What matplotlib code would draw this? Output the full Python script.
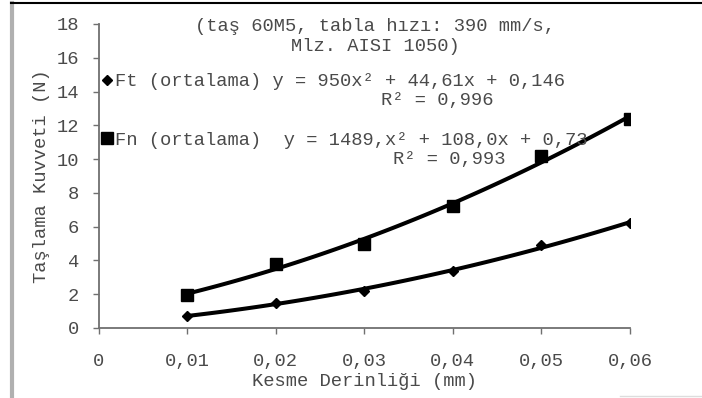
import numpy as np
import matplotlib
matplotlib.use('Agg')
import matplotlib.pyplot as plt
from matplotlib.lines import Line2D

# data
depth = [0.01, 0.02, 0.03, 0.04, 0.05, 0.06]
ft = [0.7, 1.5, 2.2, 3.4, 4.9, 6.2]
fn = [1.95, 3.8, 5.0, 7.2, 10.2, 12.4]
xticks = [0, 0.01, 0.02, 0.03, 0.04, 0.05, 0.06]
xticklabels = ["0", "0,01", "0,02", "0,03", "0,04", "0,05", "0,06"]
yticks = [0, 2, 4, 6, 8, 10, 12, 14, 16, 18]
ft_label = "Ft (ortalama) y = 950x² + 44,61x + 0,146"
fn_label = "Fn (ortalama)  y = 1489,x² + 108,0x + 0,73"
ft_r2 = "R² = 0,996"
fn_r2 = "R² = 0,993"
title_lines = "(taş 60M5, tabla hızı: 390 mm/s,\nMlz. AISI 1050)"

plt.rcParams['font.family'] = ['Liberation Mono', 'DejaVu Sans Mono']
FS = 13.5
GREY = '#4a4a4a'
AX = '#707070'

fig = plt.figure(figsize=(7.02, 3.98), dpi=100)
ax = fig.add_axes([98.5/702, 1-328/398, (630-98.5)/702, (328-24)/398])

xs = np.linspace(depth[0], depth[-1], 100)
for y, mk, ms, lab in [(ft, 'D', 5.5, ft_label), (fn, 's', 8.5, fn_label)]:
    c = np.polyfit(depth, y, 2)
    ax.plot(xs, np.polyval(c, xs), color='black', lw=2.9)
    ax.plot(depth, y, ls='none', marker=mk, ms=ms, color='black', label=lab)

ax.set_xlim(0, 0.06)
ax.set_ylim(0, 18)
ax.set_xticks(xticks)
ax.set_xticklabels(xticklabels)
ax.set_yticks(yticks)
for s in ['top', 'right']:
    ax.spines[s].set_visible(False)
for s in ['left', 'bottom']:
    ax.spines[s].set_color(AX)
    ax.spines[s].set_linewidth(1.3)
ax.tick_params(axis='both', colors=AX, labelcolor=GREY, labelsize=FS, length=4, width=1)
ax.tick_params(axis='x', pad=14)
ax.tick_params(axis='y', pad=10)
ax.set_xlabel("Kesme Derinliği (mm)", fontsize=FS, color=GREY, labelpad=2)
ax.set_ylabel("Taşlama Kuvveti (N)", fontsize=FS, color=GREY, labelpad=5)

ax.text(0.52, 0.96, title_lines, transform=ax.transAxes, ha='center', va='center',
        fontsize=FS, color=GREY, linespacing=1.25)
leg = ax.legend(loc='upper left', bbox_to_anchor=(0.005, 0.838), frameon=False,
                fontsize=FS, handlelength=0.6, handletextpad=0.15, labelspacing=2.2,
                borderaxespad=0, borderpad=0, labelcolor=GREY)
ax.text(0.638, 0.75, ft_r2, transform=ax.transAxes, ha='center', va='center',
        fontsize=FS, color=GREY)
ax.text(0.66, 0.555, fn_r2, transform=ax.transAxes, ha='center', va='center',
        fontsize=FS, color=GREY)

# page frame
fig.add_artist(Line2D([12/702, 12/702], [0, 1-3/398], color='#b0b0b0', lw=3))
fig.add_artist(Line2D([11/702, 1], [1-3/398, 1-3/398], color='black', lw=1.5))
fig.add_artist(Line2D([620/702, 1], [1-396/398, 1-396/398], color='#dddddd', lw=1))

fig.savefig("out.png", dpi=100)
